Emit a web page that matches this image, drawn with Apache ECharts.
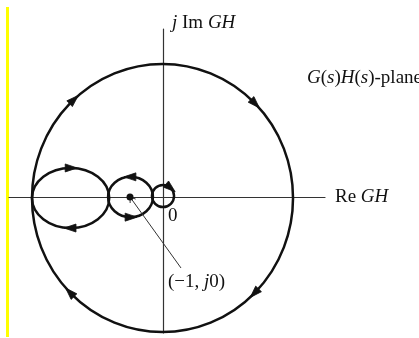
<!DOCTYPE html>
<html>
<head>
<meta charset="utf-8">
<script src="https://cdn.jsdelivr.net/npm/echarts@6/dist/echarts.min.js"></script>
<style>
  html, body { margin: 0; padding: 0; background: #fff; }
  #chart { width: 419px; height: 338px; }
</style>
</head>
<body>
<div id="chart"></div>
<script>
// Nyquist locus of G(s)H(s): each closed loop as centre and semi-axes (GH units)
const loopNames = ['outer', 'left', 'middle', 'origin'];
const loopCx = [-0.015, -2.80, -0.985, 0.0];
const loopCy = [-0.03, -0.03, 0.0, 0.03];
const loopRx = [3.955, 1.17, 0.68, 0.335];
const loopRy = [4.06, 0.91, 0.61, 0.335];

// direction arrows: which loop, position angle (deg), sense (+1 ccw, -1 cw)
const arrowLoop = [0, 0, 0, 0, 1, 1, 2, 2, 3];
const arrowAngle = [133, 45, -45, -135, 90, -90, 90, -90, 50];
const arrowSense = [-1, -1, -1, -1, -1, -1, 1, 1, -1];

// the critical point and the end of its pointer line
const criticalPoint = [-1, 0];
const pointerEnd = [0.545, -2.15];

// visible extent of the Re / Im axes
const reRange = [-4.667, 4.909];
const imRange = [-4.12, 5.09];

const serif = '"Liberation Serif", "DejaVu Serif", serif';
const INK = '#111';
const FS = 19;

function rich(size) {
  return {
    r: { fontFamily: serif, fontSize: size, fill: INK },
    i: { fontFamily: serif, fontSize: size, fontStyle: 'italic', fill: INK }
  };
}

const chart = echarts.init(document.getElementById('chart'), null, { renderer: 'canvas' });

chart.setOption({
  animation: false,
  backgroundColor: '#fff',
  grid: { left: 9, top: 29, width: 316, height: 304, containLabel: false },
  xAxis: {
    type: 'value', min: reRange[0], max: reRange[1],
    axisLine: { show: true, onZero: true, lineStyle: { color: '#333', width: 1.2 } },
    axisTick: { show: false }, axisLabel: { show: false }, splitLine: { show: false }
  },
  yAxis: {
    type: 'value', min: imRange[0], max: imRange[1],
    axisLine: { show: true, onZero: true, lineStyle: { color: '#333', width: 1.2 } },
    axisTick: { show: false }, axisLabel: { show: false }, splitLine: { show: false }
  },
  series: [
    {
      // closed loops of the locus
      type: 'custom',
      clip: false,
      data: loopNames.map((n, i) => [loopCx[i], loopCy[i]]),
      renderItem(params, api) {
        const i = params.dataIndex;
        const c = api.coord([loopCx[i], loopCy[i]]);
        const s = api.size([loopRx[i], loopRy[i]]);
        const rx = s[0], ry = s[1];
        const d = 'M' + (c[0] - rx) + ' ' + c[1] +
          ' A' + rx + ' ' + ry + ' 0 1 0 ' + (c[0] + rx) + ' ' + c[1] +
          ' A' + rx + ' ' + ry + ' 0 1 0 ' + (c[0] - rx) + ' ' + c[1] + ' Z';
        return {
          type: 'path',
          shape: { pathData: d },
          style: { fill: 'none', stroke: INK, lineWidth: 2.5 }
        };
      }
    },
    {
      // arrowheads showing the direction of travel
      type: 'custom',
      clip: false,
      data: arrowLoop.map((l) => [loopCx[l], loopCy[l]]),
      renderItem(params, api) {
        const k = params.dataIndex;
        const i = arrowLoop[k];
        const t = arrowAngle[k] * Math.PI / 180;
        const p = api.coord([loopCx[i] + loopRx[i] * Math.cos(t), loopCy[i] + loopRy[i] * Math.sin(t)]);
        const unit = api.size([1, 1]);
        let tx = -loopRx[i] * Math.sin(t) * arrowSense[k] * unit[0];
        let ty = -loopRy[i] * Math.cos(t) * arrowSense[k] * unit[1];
        const len = Math.hypot(tx, ty);
        tx /= len; ty /= len;
        const nx = -ty, ny = tx;
        const L = 12, W = 8;
        const tip = [p[0] + tx * L * 0.55, p[1] + ty * L * 0.55];
        const back = [p[0] - tx * L * 0.45, p[1] - ty * L * 0.45];
        return {
          type: 'polygon',
          shape: { points: [tip, [back[0] + nx * W / 2, back[1] + ny * W / 2], [back[0] - nx * W / 2, back[1] - ny * W / 2]] },
          style: { fill: INK, stroke: INK, lineWidth: 0.8 }
        };
      }
    },
    {
      // pointer line to (-1, j0)
      type: 'line',
      data: [criticalPoint, pointerEnd],
      showSymbol: false,
      symbol: 'none',
      lineStyle: { color: '#333', width: 1 },
      silent: true
    },
    {
      // small open arrowhead of the pointer at the critical point
      type: 'custom',
      clip: false,
      data: [criticalPoint],
      renderItem(params, api) {
        const a = api.coord(criticalPoint);
        const b = api.coord(pointerEnd);
        let dx = b[0] - a[0], dy = b[1] - a[1];
        const len = Math.hypot(dx, dy);
        dx /= len; dy /= len;
        const arm = 6, ang = 0.6;
        const r1 = [a[0] + arm * (dx * Math.cos(ang) - dy * Math.sin(ang)), a[1] + arm * (dx * Math.sin(ang) + dy * Math.cos(ang))];
        const r2 = [a[0] + arm * (dx * Math.cos(-ang) - dy * Math.sin(-ang)), a[1] + arm * (dx * Math.sin(-ang) + dy * Math.cos(-ang))];
        return {
          type: 'polyline',
          shape: { points: [r1, a, r2] },
          style: { fill: 'none', stroke: '#333', lineWidth: 1 }
        };
      }
    },
    {
      // the critical point itself
      type: 'scatter',
      data: [criticalPoint],
      symbolSize: 7,
      itemStyle: { color: INK, opacity: 1 },
      z: 5,
      silent: true
    }
  ],
  graphic: [
    { type: 'rect', shape: { x: 6, y: 7, width: 3, height: 330 }, style: { fill: '#ffff00' }, silent: true },
    {
      type: 'text', x: 172, y: 23,
      style: { text: '{i|j} {r|Im} {i|GH}', rich: rich(FS), verticalAlign: 'middle', fontFamily: serif, fontSize: FS }
    },
    {
      type: 'text', x: 307, y: 78,
      style: { text: '{i|G}{r|(}{i|s}{r|)}{i|H}{r|(}{i|s}{r|)-plane}', rich: rich(FS), verticalAlign: 'middle', fontFamily: serif, fontSize: FS }
    },
    {
      type: 'text', x: 335, y: 197,
      style: { text: '{r|Re} {i|GH}', rich: rich(FS), verticalAlign: 'middle', fontFamily: serif, fontSize: FS }
    },
    {
      type: 'text', x: 168, y: 216,
      style: { text: '{r|0}', rich: rich(FS), verticalAlign: 'middle', fontFamily: serif, fontSize: FS }
    },
    {
      type: 'text', x: 168, y: 282,
      style: { text: '{r|(\u22121,} {i|j}{r|0)}', rich: rich(FS), verticalAlign: 'middle', fontFamily: serif, fontSize: FS }
    }
  ]
});
</script>
</body>
</html>
